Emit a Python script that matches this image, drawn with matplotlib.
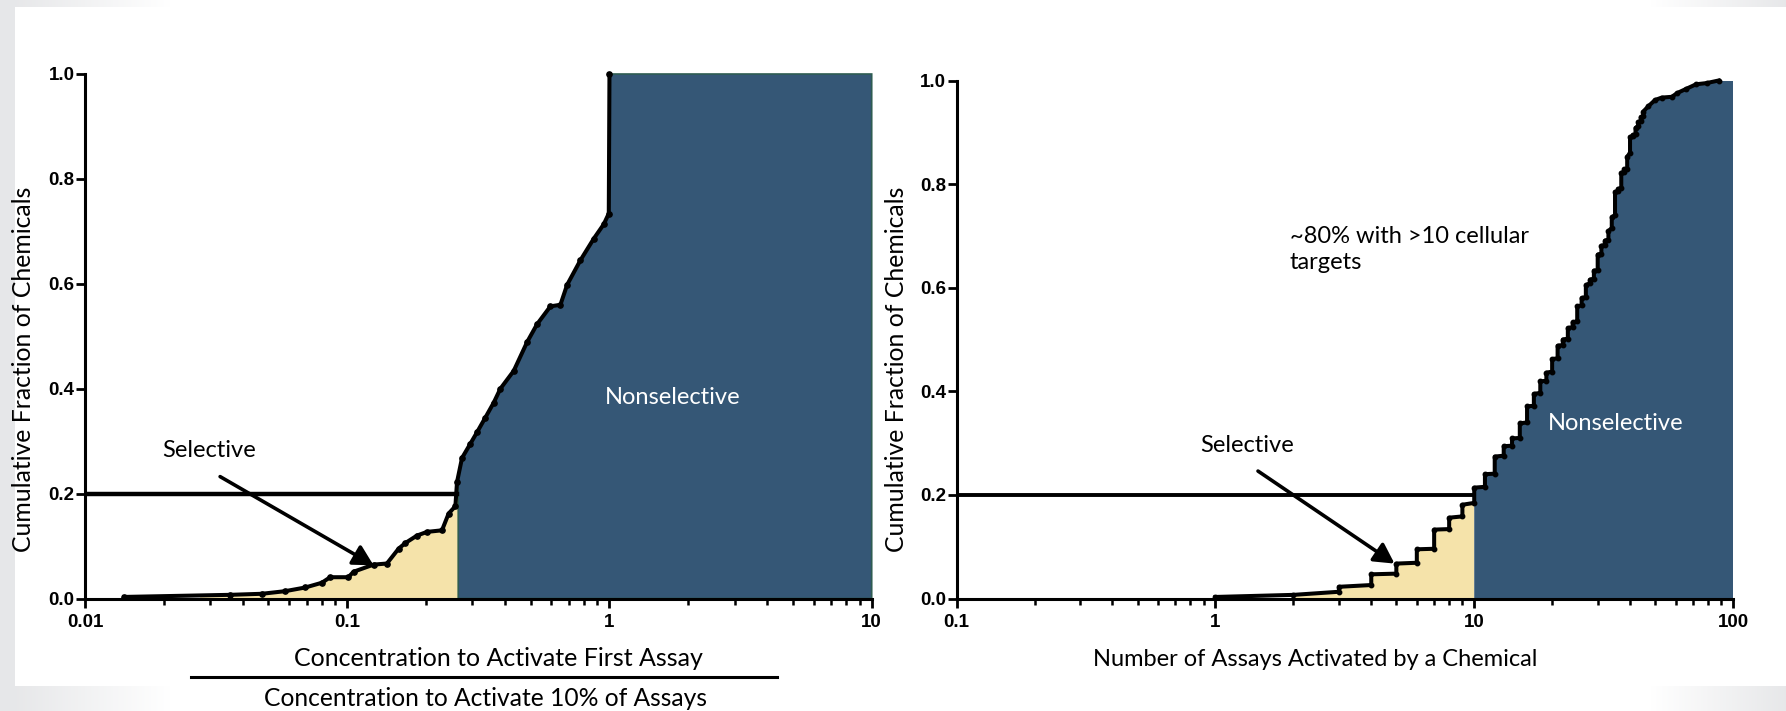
import numpy as np
import matplotlib
matplotlib.use("Agg")
import matplotlib.pyplot as plt
from matplotlib.ticker import FixedLocator, FixedFormatter, LogLocator, NullFormatter
from matplotlib.lines import Line2D

# ---------------- data ----------------
# Left panel: ratio of first-assay concentration to 10%-of-assays concentration
ratio_x = [0.0141, 0.0358, 0.0473, 0.058, 0.0692, 0.080, 0.0861, 0.101, 0.1057,
           0.126, 0.1417, 0.157, 0.1665, 0.1845, 0.2014, 0.2298, 0.2436, 0.2585,
           0.2622, 0.274, 0.2947, 0.3126, 0.3363, 0.362, 0.3837, 0.4314, 0.4853,
           0.5296, 0.5953, 0.650, 0.6894, 0.775, 0.871, 0.951, 0.994, 1.0]
ratio_frac = [0.003, 0.007, 0.009, 0.014, 0.021, 0.030, 0.0406, 0.0406, 0.051,
              0.0646, 0.0667, 0.095, 0.1057, 0.120, 0.127, 0.130, 0.162, 0.176,
              0.222, 0.268, 0.295, 0.317, 0.345, 0.3735, 0.400, 0.434, 0.489,
              0.523, 0.557, 0.560, 0.598, 0.645, 0.686, 0.7135, 0.734, 1.0]
ratio_sel_start = 0.0275
ratio_cut = 0.265
ratio_end = 10.0

# Right panel: number of assays hit per chemical (vertical steps at integer counts)
assay_n = [1, 2, 3, 3, 4, 4, 5, 5, 6, 6, 7, 7, 8, 8, 9, 9, 10, 10, 11, 11, 12, 12,
           13, 13, 14, 14, 15, 15, 16, 16, 17, 17, 18, 18, 19, 19, 20, 20, 21, 21,
           22, 22, 23, 23, 24, 24, 25, 25, 26, 26, 27, 27, 28, 28, 29, 29, 30, 30,
           31, 31, 32, 32, 33, 33, 34, 34, 35, 35, 36, 36, 37, 37, 38, 38, 39, 39,
           40, 40, 41, 41, 42, 42, 43, 43, 44, 44, 45, 45, 47, 50, 53, 58, 61, 66,
           72, 79, 88]
assay_frac = [0.003, 0.007, 0.013, 0.0226, 0.026, 0.0467, 0.048, 0.0674, 0.069, 0.095,
              0.096, 0.133, 0.134, 0.156, 0.1585, 0.181, 0.1846, 0.214, 0.2156, 0.240,
              0.241, 0.274, 0.2757, 0.294, 0.295, 0.309, 0.310, 0.338, 0.340, 0.371,
              0.372, 0.395, 0.397, 0.419, 0.4205, 0.436, 0.438, 0.462, 0.464, 0.488,
              0.4894, 0.500, 0.5017, 0.522, 0.524, 0.533, 0.535, 0.564, 0.566, 0.580,
              0.582, 0.605, 0.6087, 0.6156, 0.6176, 0.633, 0.634, 0.664, 0.666, 0.681,
              0.683, 0.691, 0.693, 0.709, 0.7155, 0.736, 0.740, 0.785, 0.787, 0.791,
              0.792, 0.822, 0.824, 0.829, 0.830, 0.853, 0.860, 0.891, 0.893, 0.895,
              0.896, 0.9085, 0.912, 0.920, 0.922, 0.929, 0.931, 0.940, 0.950, 0.9624,
              0.967, 0.9685, 0.976, 0.984, 0.9927, 0.995, 1.0]
assay_sel_start = 2
assay_cut = 10
assay_end = 100

threshold = 0.2

left_xticks = [0.01, 0.1, 1, 10]
left_xlabels = ["0.01", "0.1", "1", "10"]
right_xticks = [0.1, 1, 10, 100]
right_xlabels = ["0.1", "1", "10", "100"]
yticks = [0.0, 0.2, 0.4, 0.6, 0.8, 1.0]
ylabels = ["0.0", "0.2", "0.4", "0.6", "0.8", "1.0"]

# ---------------- style ----------------
W, H = 1786, 711
SEL = "#F5E3AA"
NONSEL = "#355776"
EDGE = "#2E5C52"
TXT_FONT = ["Lato", "DejaVu Sans"]
TICK_FONT = ["Liberation Sans", "DejaVu Sans"]
TXT_SIZE = 17

fig = plt.figure(figsize=(W / 100, H / 100), dpi=100)
fig.patch.set_facecolor("white")


def fx(px):
    return px / W


def fy(py):
    return 1 - py / H


# slide frame: grey strip on the left, fading grey bands at top and bottom corners
bg = np.ones((H, W, 3))
grey = np.array([0.905, 0.908, 0.915])
cols = np.arange(W)
fade_left = np.clip((170 - cols) / (170 - 15), 0, 1)
fade_right = np.clip((cols - 1650) / (W - 1650), 0, 1)
band = np.maximum(fade_left, fade_right)[:, None]
band_rgb = 1 - band * (1 - grey)
bg[:7, :, :] = band_rgb[None, :, :]
bg[686:, :, :] = band_rgb[None, :, :]
bg[:, :15, :] = grey
fig.figimage(bg, xo=0, yo=0, origin="upper", zorder=-5)


def style_axes(ax, xlo, xhi, xticks, xlabels):
    ax.set_facecolor("none")
    ax.set_xscale("log")
    ax.set_xlim(xlo, xhi)
    ax.set_ylim(0, 1.0)
    for s in ("top", "right"):
        ax.spines[s].set_visible(False)
    for s in ("left", "bottom"):
        ax.spines[s].set_linewidth(2.2)
        ax.spines[s].set_color("black")
        ax.spines[s].set_zorder(6)
    ax.xaxis.set_major_locator(FixedLocator(xticks))
    ax.xaxis.set_major_formatter(FixedFormatter(xlabels))
    ax.xaxis.set_minor_locator(LogLocator(base=10, subs=np.arange(2, 10)))
    ax.xaxis.set_minor_formatter(NullFormatter())
    ax.yaxis.set_major_locator(FixedLocator(yticks))
    ax.yaxis.set_major_formatter(FixedFormatter(ylabels))
    ax.tick_params(axis="both", which="major", direction="out", length=6.5, width=2.0,
                   color="black")
    ax.tick_params(axis="x", which="minor", direction="out", length=4, width=1.8,
                   color="black")
    ax.tick_params(axis="x", which="major", pad=4.5)
    ax.tick_params(axis="y", which="major", pad=1)
    for lab in ax.get_xticklabels() + ax.get_yticklabels():
        lab.set_family(TICK_FONT)
        lab.set_fontweight("bold")
        lab.set_fontsize(13.5)


# ---------------- left panel ----------------
axL = fig.add_axes([fx(85), fy(598.5), fx(871.7) - fx(85), fy(74) - fy(598.5)])
style_axes(axL, 0.01, 10, left_xticks, left_xlabels)

rx = np.array(ratio_x)
ry = np.array(ratio_frac)
lx = np.log10(rx)

# selective region under the curve
inner = (rx > ratio_sel_start) & (rx < ratio_cut)
sx = np.concatenate([[ratio_sel_start], rx[inner], [ratio_cut]])
sy = np.interp(np.log10(sx), lx, ry)
axL.fill(np.concatenate([[ratio_sel_start], sx, [ratio_cut]]),
         np.concatenate([[0], sy, [0]]), color=SEL, lw=0, zorder=1)

# nonselective region under the curve, carried at its last value to the axis end
inner = rx > ratio_cut
nx = np.concatenate([[ratio_cut], rx[inner], [ratio_end]])
ny = np.concatenate([[np.interp(np.log10(ratio_cut), lx, ry)], ry[inner], [ry[-1]]])
axL.fill(np.concatenate([[ratio_cut], nx, [ratio_end]]),
         np.concatenate([[0], ny, [0]]), facecolor=NONSEL, edgecolor=EDGE, lw=1.2,
         zorder=1, clip_on=False)

axL.axhline(threshold, xmin=0, xmax=(np.log10(0.262) + 2) / 3, color="black", lw=3.2,
            zorder=2.5)
axL.plot(rx, ry, color="black", lw=2.9, marker="o", ms=3.8, zorder=4, clip_on=False)

axL.text(0.0298, 0.283, "Selective", family=TXT_FONT, size=TXT_SIZE, ha="center",
         va="center", color="black")
axL.annotate("", xy=(0.126, 0.0633), xytext=(0.03275, 0.2324),
             arrowprops=dict(arrowstyle="-|>,head_length=0.55,head_width=0.3", lw=2.6,
                             color="black", shrinkA=0, shrinkB=0, mutation_scale=22),
             zorder=5)
axL.text(1.74, 0.383, "Nonselective", family=TXT_FONT, size=TXT_SIZE, ha="center",
         va="center", color="white", zorder=5)

# ---------------- right panel ----------------
axR = fig.add_axes([fx(956.7), fy(598.5), fx(1733) - fx(956.7), fy(80.5) - fy(598.5)])
style_axes(axR, 0.1, 100, right_xticks, right_xlabels)

ax_n = np.array(assay_n, dtype=float)
ax_f = np.array(assay_frac)

m = (ax_n >= assay_sel_start) & (ax_n <= assay_cut)
m_first = m.copy()
# keep only the lower point at the cut so the yellow stops below the step
last_idx = np.where(ax_n == assay_cut)[0]
m_first[last_idx[1:]] = False
axR.fill(np.concatenate([[assay_sel_start], ax_n[m_first], [assay_cut]]),
         np.concatenate([[0], ax_f[m_first], [0]]), color=SEL, lw=0, zorder=1)

m = ax_n >= assay_cut
axR.fill(np.concatenate([[assay_cut], ax_n[m], [assay_end], [assay_end]]),
         np.concatenate([[0], ax_f[m], [ax_f[-1]], [0]]), color=NONSEL, lw=0, zorder=1)

axR.axhline(threshold, xmin=0, xmax=(np.log10(assay_cut) + 1) / 3, color="black",
            lw=2.8, zorder=2.5)
axR.plot(ax_n, ax_f, color="black", lw=2.9, marker="o", ms=3.2, zorder=4,
         clip_on=False)

axR.text(1.327, 0.296, "Selective", family=TXT_FONT, size=TXT_SIZE, ha="center",
         va="center", color="black")
axR.annotate("", xy=(4.92, 0.0674), xytext=(1.46, 0.246),
             arrowprops=dict(arrowstyle="-|>,head_length=0.55,head_width=0.3", lw=2.6,
                             color="black", shrinkA=0, shrinkB=0, mutation_scale=22),
             zorder=5)
axR.text(35.1, 0.337, "Nonselective", family=TXT_FONT, size=TXT_SIZE, ha="center",
         va="center", color="white", zorder=5)
axR.text(1.94, 0.673, "~80% with >10 cellular\ntargets", family=TXT_FONT,
         size=TXT_SIZE, ha="left", va="center", linespacing=1.3, color="black")

# ---------------- axis titles ----------------
ylab = "Cumulative Fraction of Chemicals"
fig.text(fx(24), fy(369), ylab, rotation=90, ha="center", va="center",
         family=TXT_FONT, size=17.8)
fig.text(fx(896), fy(369), ylab, rotation=90, ha="center", va="center",
         family=TXT_FONT, size=17.8)

fig.text(fx(498), fy(658), "Concentration to Activate First Assay", ha="center",
         va="center", family=TXT_FONT, size=18.0)
fig.add_artist(Line2D([fx(191), fx(777)], [fy(677), fy(677)], color="black", lw=2.2))
fig.text(fx(485), fy(699), "Concentration to Activate 10% of Assays", ha="center",
         va="center", family=TXT_FONT, size=17.7)
fig.text(fx(1315), fy(659), "Number of Assays Activated by a Chemical", ha="center",
         va="center", family=TXT_FONT, size=TXT_SIZE)

fig.savefig("out.png", dpi=100, facecolor=fig.get_facecolor())
